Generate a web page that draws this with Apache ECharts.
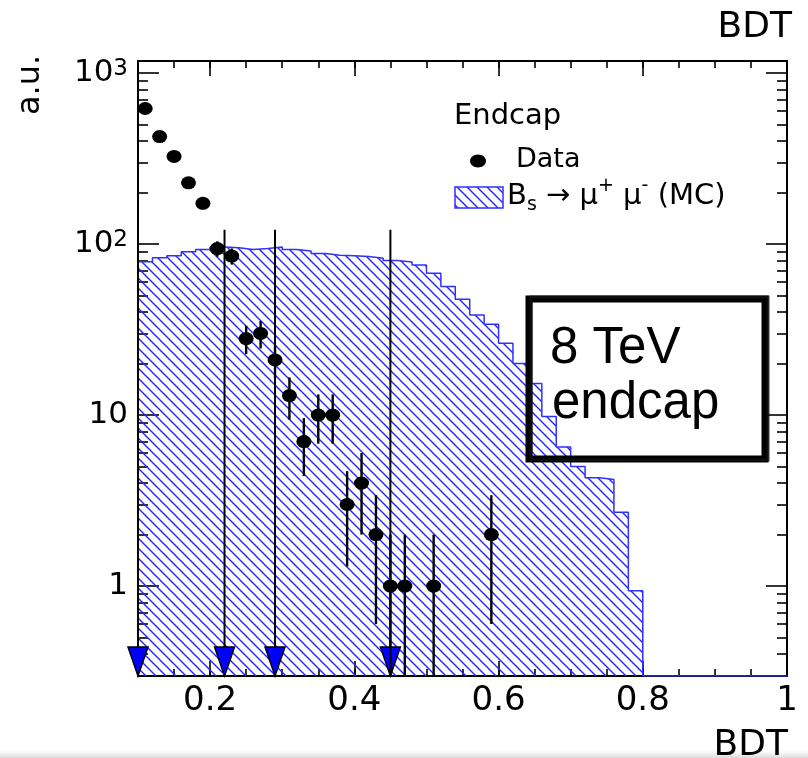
<!DOCTYPE html>
<html>
<head>
<meta charset="utf-8">
<script src="https://cdn.jsdelivr.net/npm/echarts@6.0.0/dist/echarts.min.js"></script>
<style>
  html, body { margin: 0; padding: 0; background: #fff; }
  #chart { width: 808px; height: 758px; }
</style>
</head>
<body>
<div id="chart"></div>
<script>
// BDT output, endcap, 8 TeV: data points + Bs->mumu MC shape

// data points (bin centres, counts, sqrt(N) errors)
const dataX = [0.11, 0.13, 0.15, 0.17, 0.19, 0.21, 0.23, 0.25, 0.27, 0.29, 0.31,
               0.33, 0.35, 0.37, 0.39, 0.41, 0.43, 0.45, 0.47, 0.51, 0.59];
const dataY = [620, 425, 325, 228, 173, 94, 85, 28, 30, 21, 13,
               7, 10, 10, 3, 4, 2, 1, 1, 1, 2];
const dataErr = [24.9, 20.6, 18, 15.1, 13.2, 9.7, 9.2, 5.3, 5.5, 4.6, 3.6,
                 2.6, 3.2, 3.2, 1.7, 2, 1.4, 1, 1, 1, 1.4];

// MC histogram, bins of 0.02 from 0.1 to 1.0
const binWidth = 0.02;
const mcX = [0.11, 0.13, 0.15, 0.17, 0.19, 0.21, 0.23, 0.25, 0.27, 0.29,
             0.31, 0.33, 0.35, 0.37, 0.39, 0.41, 0.43, 0.45, 0.47, 0.49,
             0.51, 0.53, 0.55, 0.57, 0.59, 0.61, 0.63, 0.65, 0.67, 0.69,
             0.71, 0.73, 0.75, 0.77, 0.79, 0.81, 0.83, 0.85, 0.87, 0.89,
             0.91, 0.93, 0.95, 0.97, 0.99];
const mcY = [78.8, 83, 85.5, 90, 93, 96, 95, 93, 94, 96,
             93, 91, 88, 86, 85.5, 84.5, 82.5, 80, 78.5, 75.5,
             67.5, 56.5, 47.5, 38.5, 34, 26.3, 20, 15.3, 9.8, 6.5,
             5.0, 4.3, 4.2, 2.7, 0.94, 0, 0, 0, 0, 0,
             0, 0, 0, 0, 0];

// cut arrows
const cutX = [0.1, 0.22, 0.29, 0.45];
const arrowTop = 121;

// axes
const yMin = 0.298, yMax = 1175;
const yMajor = [1, 10, 100, 1000];
const yMinor = [0.3, 0.4, 0.5, 0.6, 0.7, 0.8, 0.9,
                2, 3, 4, 5, 6, 7, 8, 9,
                20, 30, 40, 50, 60, 70, 80, 90,
                200, 300, 400, 500, 600, 700, 800, 900];
const xMajor = [0.2, 0.4, 0.6, 0.8, 1];

const FONT = 'DejaVu Sans';

function hatch() {
  const c = document.createElement('canvas');
  c.width = 10; c.height = 10;
  const g = c.getContext('2d');
  g.strokeStyle = '#2424ff';
  g.lineWidth = 1.4;
  [-10, 0, 10].forEach(function (o) {
    g.beginPath();
    g.moveTo(o - 1, -1);
    g.lineTo(o + 11, 11);
    g.stroke();
  });
  return c;
}
const hatchFill = { image: hatch(), repeat: 'repeat' };

// step outline of the histogram
const mcStep = mcX.map(function (c, i) {
  return [c - binWidth / 2, mcY[i] > 0 ? mcY[i] : yMin];
});
mcStep.push([1.0, yMin]);

const chart = echarts.init(document.getElementById('chart'));

const black = { color: '#000', width: 2 };
const tickStyle = { color: '#000', width: 1.6 };

function xAx(pos, major) {
  return {
    type: 'value', min: 0.1, max: 1, position: pos,
    interval: major ? undefined : 0.05,
    axisLine: { show: major, onZero: false, lineStyle: black },
    axisTick: major
      ? { show: true, inside: true, length: 15, customValues: xMajor, lineStyle: tickStyle }
      : { show: true, inside: true, length: 7, lineStyle: tickStyle },
    axisLabel: (major && pos === 'bottom') ? {
      customValues: xMajor, margin: 8, color: '#000',
      fontSize: 34, fontFamily: FONT,
      formatter: function (v) { return v === 1 ? '1' : v.toFixed(1); }
    } : { show: false },
    splitLine: { show: false }
  };
}

function yAx(pos, major) {
  return {
    type: 'log', min: yMin, max: yMax, position: pos,
    axisLine: { show: major, onZero: false, lineStyle: black },
    axisTick: {
      show: true, inside: true, length: major ? 21 : 10,
      customValues: major ? yMajor : yMinor, lineStyle: tickStyle
    },
    axisLabel: (major && pos === 'left') ? {
      customValues: yMajor, margin: 10, color: '#000',
      fontSize: 31, fontFamily: FONT,
      formatter: function (v) {
        return v < 50 ? String(v) : '10{sup|' + Math.round(Math.log10(v)) + '}';
      },
      rich: { sup: { fontSize: 23, fontFamily: FONT, color: '#000', verticalAlign: 'top' } }
    } : { show: false },
    splitLine: { show: false }
  };
}

const option = {
  animation: false,
  backgroundColor: '#fff',
  grid: { left: 138, right: 21, top: 61, bottom: 82, outerBoundsMode: 'none' },
  xAxis: [xAx('bottom', true), xAx('bottom', false), xAx('top', true), xAx('top', false)],
  yAxis: [yAx('left', true), yAx('left', false), yAx('right', true), yAx('right', false)],
  series: [
    {
      name: 'MC', type: 'line', step: 'end', symbol: 'none',
      data: mcStep, clip: true, z: 1,
      lineStyle: { color: '#3030ff', width: 1.5 },
      areaStyle: { color: hatchFill, origin: 'start', opacity: 1 }
    },
    {
      name: 'cuts', type: 'custom', z: 3, clip: false,
      data: cutX.map(function (x) { return [x, arrowTop]; }),
      renderItem: function (params, api) {
        const top = api.coord([api.value(0), api.value(1)]);
        const bot = params.coordSys.y + params.coordSys.height;
        const x = top[0];
        return {
          type: 'group',
          children: [
            { type: 'line', shape: { x1: x, y1: top[1], x2: x, y2: bot },
              style: { stroke: '#000', lineWidth: 2 } },
            { type: 'polygon', shape: { points: [[x - 10, bot - 29], [x + 10, bot - 29], [x, bot]] },
              style: { fill: '#0000ff', stroke: '#000', lineWidth: 1.5 } }
          ]
        };
      }
    },
    {
      name: 'errors', type: 'custom', z: 4, clip: true,
      data: dataX.map(function (x, i) { return [x, dataY[i], dataErr[i]]; }),
      encode: { x: 0, y: 1 },
      renderItem: function (params, api) {
        const x = api.value(0), y = api.value(1), e = api.value(2);
        const lo = y - e > yMin ? y - e : yMin;
        const p1 = api.coord([x, y + e]);
        const p2 = api.coord([x, lo]);
        return { type: 'line', shape: { x1: p1[0], y1: p1[1], x2: p2[0], y2: p2[1] },
                 style: { stroke: '#000', lineWidth: 2.4 } };
      }
    },
    {
      name: 'Data', type: 'scatter', z: 5,
      data: dataX.map(function (x, i) { return [x, dataY[i]]; }),
      symbol: 'circle', symbolSize: [15, 13],
      itemStyle: { color: '#000', opacity: 1 }
    }
  ],
  graphic: [
    { type: 'rect', shape: { x: 0, y: 748, width: 808, height: 10 }, silent: true, z: 0,
      style: { fill: new echarts.graphic.LinearGradient(0, 0, 0, 1, [
        { offset: 0, color: 'rgba(255,255,255,0)' }, { offset: 1, color: 'rgba(200,200,200,0.7)' }]) } },
    { type: 'text', x: 454, y: 116, z: 10,
      style: { text: 'Endcap', font: '29px "DejaVu Sans"', fill: '#000', verticalAlign: 'middle' } },
    { type: 'ellipse', shape: { cx: 478, cy: 161, rx: 8, ry: 6.5 }, z: 10, style: { fill: '#000' } },
    { type: 'text', x: 516, y: 160, z: 10,
      style: { text: 'Data', font: '27px "DejaVu Sans"', fill: '#000', verticalAlign: 'middle' } },
    { type: 'rect', shape: { x: 455, y: 187, width: 48, height: 21 }, z: 10,
      style: { fill: hatchFill, stroke: '#3030ff', lineWidth: 1.5 } },
    { type: 'text', x: 507, y: 196, z: 10,
      style: {
        text: 'B{sub|s} \u2192 \u03bc{sup|+} \u03bc{sup|-} (MC)',
        font: '29px "DejaVu Sans"', fill: '#000', verticalAlign: 'middle', lineHeight: 38,
        rich: {
          sub: { fontSize: 19, fontFamily: FONT, fill: '#000', verticalAlign: 'bottom', lineHeight: 24 },
          sup: { fontSize: 19, fontFamily: FONT, fill: '#000', verticalAlign: 'top', lineHeight: 30 }
        }
      } },
    { type: 'rect', shape: { x: 529, y: 299, width: 236, height: 160 }, z: 10,
      style: { fill: 'none', stroke: '#000', lineWidth: 7 } },
    { type: 'rect', shape: { x: 531, y: 297, width: 237, height: 163 }, z: 10,
      style: { fill: 'none', stroke: '#111', lineWidth: 3, opacity: 0.8 } },
    { type: 'text', x: 550, y: 349, z: 11,
      style: { text: '8 TeV', font: '51px "Liberation Sans"', fill: '#000', verticalAlign: 'middle' } },
    { type: 'text', x: 552, y: 404, z: 11,
      style: { text: 'endcap', font: '51px "Liberation Sans"', fill: '#000', verticalAlign: 'middle' } },
    { type: 'text', x: 31, y: 85, rotation: Math.PI / 2, z: 10,
      style: { text: 'a.u.', font: '32px "DejaVu Sans"', fill: '#000', align: 'center', verticalAlign: 'middle' } },
    { type: 'text', x: 792, y: 28, z: 10,
      style: { text: 'BDT', font: '36px "DejaVu Sans"', fill: '#000', align: 'right', verticalAlign: 'middle' } },
    { type: 'text', x: 788, y: 746, z: 10,
      style: { text: 'BDT', font: '36px "DejaVu Sans"', fill: '#000', align: 'right', verticalAlign: 'middle' } }
  ]
};

chart.setOption(option);
</script>
</body>
</html>
